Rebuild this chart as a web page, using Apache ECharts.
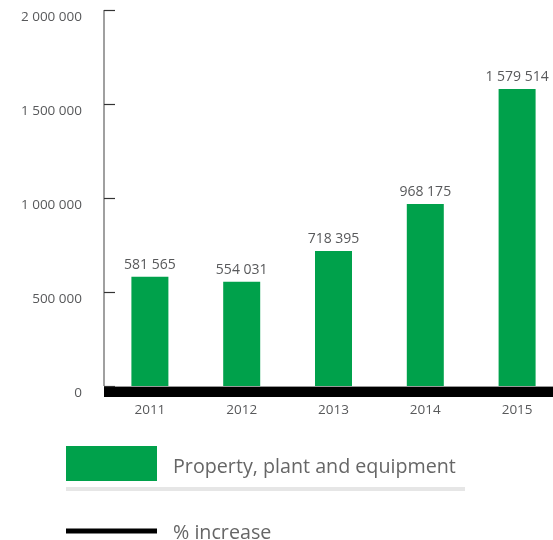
<!DOCTYPE html>
<html>
<head>
<meta charset="utf-8">
<style>
  html, body { margin: 0; padding: 0; background: #fff; }
  #chart { width: 553px; height: 540px; }
</style>
<script src="https://cdn.jsdelivr.net/npm/echarts@6/dist/echarts.min.js"></script>
</head>
<body>
<div id="chart"></div>
<script>
// Property, plant and equipment by year
const years = ['2011', '2012', '2013', '2014', '2015'];
const ppeValues = [581565, 554031, 718395, 968175, 1579514];
const yTicks = [0, 500000, 1000000, 1500000, 2000000];

const barName = 'Property, plant and equipment';
const lineName = '% increase';
const GREEN = '#00a14b';
const TEXT = '#58595b';
const FONT = 'Open Sans';

// thousands separated with spaces, e.g. 1 579 514
function spaced(v) {
  return String(Math.round(v)).replace(/\B(?=(\d{3})+(?!\d))/g, ' ');
}

// legend label nudged slightly below the key's centre line
function legendText(shift) {
  return {
    color: '#666', fontSize: 19.7, fontFamily: FONT, padding: [0, 0, 0, 11],
    rich: {
      t: { color: '#666', fontSize: 19.7, fontFamily: FONT, padding: [shift * 2, 0, 0, 0] }
    }
  };
}

const chart = echarts.init(document.getElementById('chart'), null, { renderer: 'canvas' });

chart.setOption({
  animation: false,
  backgroundColor: '#ffffff',
  textStyle: { fontFamily: FONT },
  grid: {
    left: 104, top: 10, width: 459, bottom: 154,
    containLabel: false, outerBoundsMode: 'none'
  },
  xAxis: [
    {
      type: 'category',
      data: years,
      offset: 5.5,
      axisLine: { onZero: false, lineStyle: { color: '#000', width: 10, cap: 'butt' } },
      axisTick: { show: false },
      axisLabel: { color: TEXT, fontSize: 13.5, fontFamily: FONT, margin: 12 }
    },
    {
      // thin grey base line sitting on top of the black band
      type: 'category',
      data: years,
      position: 'bottom',
      axisLine: { onZero: false, lineStyle: { color: '#9a9a9a', width: 1, cap: 'butt' } },
      axisTick: { show: false },
      axisLabel: { show: false }
    }
  ],
  yAxis: {
    type: 'value',
    min: yTicks[0],
    max: yTicks[yTicks.length - 1],
    interval: 500000,
    axisLine: { show: true, lineStyle: { color: '#808080', width: 1.5, cap: 'butt' } },
    axisTick: { show: true, inside: true, length: 11, lineStyle: { color: '#333', width: 1.2 } },
    axisLabel: {
      color: TEXT, fontSize: 13.5, fontFamily: FONT, margin: 22,
      verticalAlign: 'top',
      formatter: v => spaced(v)
    },
    splitLine: { show: false }
  },
  legend: [
    {
      data: [barName],
      left: 66, top: 446, padding: 0,
      icon: 'rect', itemWidth: 91, itemHeight: 35,
      selectedMode: false,
      formatter: '{t|{name}}',
      textStyle: legendText(4)
    },
    {
      data: [lineName],
      left: 66, top: 523, padding: 0,
      icon: 'rect', itemWidth: 91, itemHeight: 5,
      selectedMode: false,
      formatter: '{t|{name}}',
      textStyle: legendText(2)
    }
  ],
  graphic: [
    {
      type: 'rect',
      shape: { x: 66, y: 487, width: 399, height: 4 },
      style: { fill: '#e6e6e6' },
      silent: true
    }
  ],
  series: [
    {
      name: barName,
      type: 'bar',
      data: ppeValues,
      barWidth: 37,
      itemStyle: { color: GREEN },
      label: {
        show: true, position: 'top', distance: 5,
        color: TEXT, fontSize: 14, fontFamily: FONT,
        formatter: p => spaced(p.value)
      }
    },
    {
      name: lineName,
      type: 'line',
      data: [],
      itemStyle: { color: '#000' },
      lineStyle: { color: '#000', width: 5 }
    }
  ]
});
</script>
</body>
</html>
